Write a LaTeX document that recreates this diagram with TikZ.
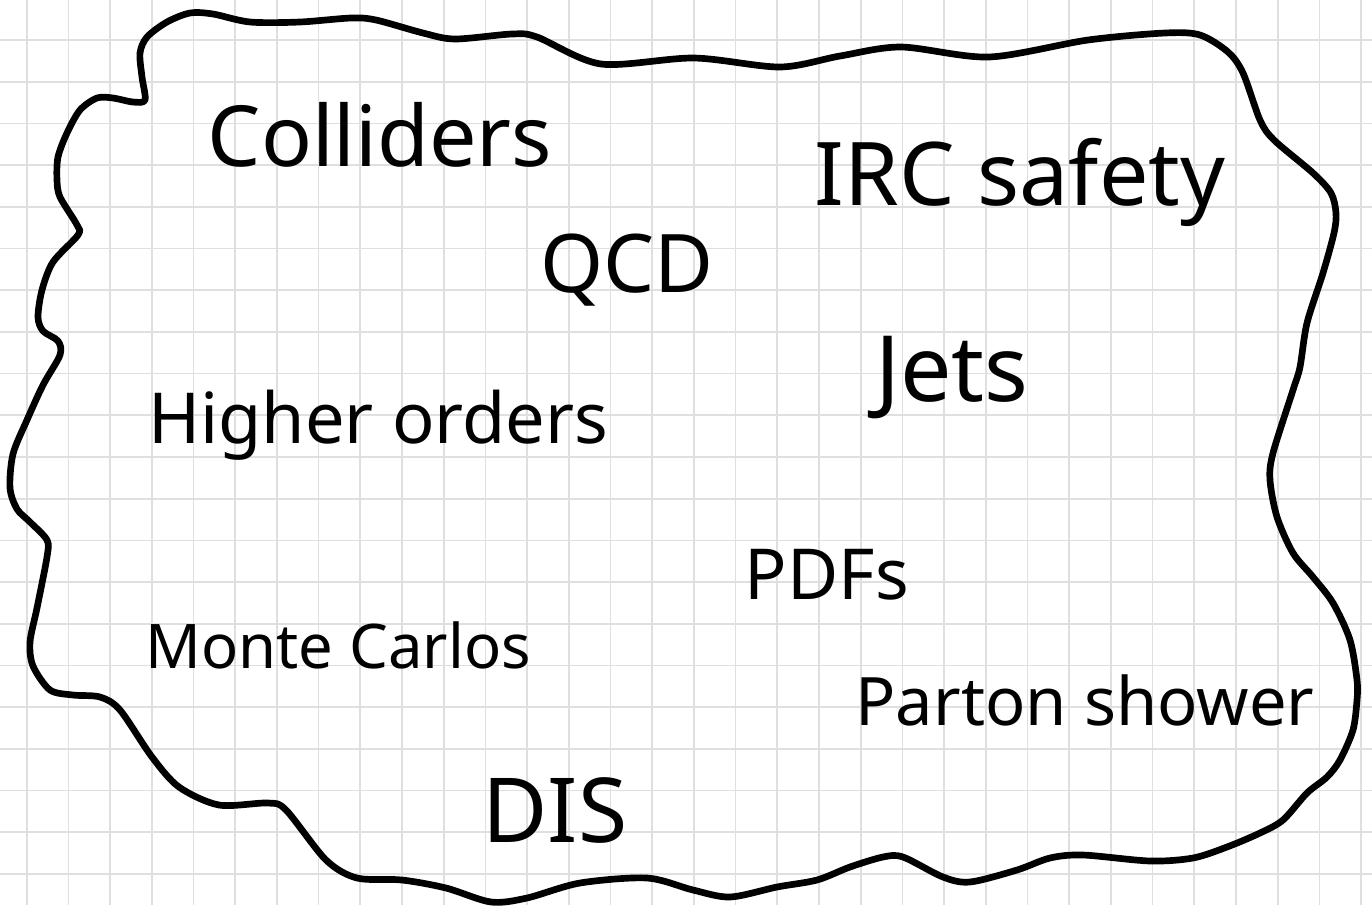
\documentclass[tikz,border=0pt]{standalone}
\usepackage{fontspec}
\setmainfont{Noto Sans}
\tikzset{
	gridline/.style={draw=gray!25, line width=0.5pt},
	blob/.style={line width=1.9pt, line join=round},
	topic/.style={inner sep=0pt, font=\fontsize{#1}{#1}\selectfont}
}
\begin{document}
\begin{tikzpicture}[x=0.01cm, y=-0.01cm]
		\useasboundingbox (0,0) rectangle (1372,905);
		\fill[white] (0,0) rectangle (1372,905);
		% squared paper
		\foreach \k in {0,...,32}
			\draw[gridline] ({26.7+41.7*\k},0) -- ({26.7+41.7*\k},905);
		\foreach \k in {0,...,21}
			\draw[gridline] (0,{40+41.7*\k}) -- (1372,{40+41.7*\k});
		% the cloud
		\draw[blob] plot[smooth cycle, tension=0.5] coordinates {
			(145,100) (142,77) (140,53) (147,37) (167,22) (190,13) (213,14) (250,22)
			(300,22) (351,18) (376,20) (423,33) (455,39) (512,34) (537,37) (601,64)
			(694,58) (780,67) (840,56) (901,47) (989,57) (1088,40) (1165,33) (1200,35)
			(1228,52) (1243,73) (1260,120) (1274,140) (1313,173) (1331,193) (1336,213)
			(1334,233) (1323,273) (1307,323) (1300,367) (1293,390) (1273,453) (1270,480)
			(1277,517) (1293,553) (1313,577) (1333,603) (1350,640) (1357,680) (1357,700)
			(1353,730) (1340,760) (1327,777) (1307,793) (1283,820) (1260,833) (1227,847)
			(1193,858) (1150,861) (1083,855) (1050,858) (1017,870) (970,882) (943,877)
			(903,857) (883,857) (850,867) (817,880) (777,887) (730,897) (693,890)
			(647,878) (580,883) (527,898) (491,902) (446,888) (402,880) (357,878)
			(326,860) (286,810) (268,803) (219,805) (179,787) (152,757) (120,710)
			(100,697) (73,695) (50,690) (33,666) (30,642) (37,608) (47,557) (47,540)
			(30,522) (17,509) (10,488) (13,454) (27,420) (43,385) (60,355) (58,341)
			(43,331) (38,317) (42,290) (53,262) (78,235) (77,225) (60,197) (57,180)
			(58,157) (67,133) (80,110) (97,98) (113,98) (133,102)};
		% topics
		\node[topic=24] (colliders) at (380,135) {Colliders};
		\node[topic=25] (irc) at (1020,182) {IRC safety};
		\node[topic=23] (qcd) at (627,270) {QCD};
		\node[topic=26] (jets) at (952,378) {Jets};
		\node[topic=20] (higher) at (378,425) {Higher orders};
		\node[topic=20] (pdfs) at (827,575) {PDFs};
		\node[topic=17.5] (monte) at (338,645) {Monte Carlos};
		\node[topic=19] (parton) at (1085,700) {Parton shower};
		\node[topic=25.5] (dis) at (555,810) {DIS};
\end{tikzpicture}
\end{document}
